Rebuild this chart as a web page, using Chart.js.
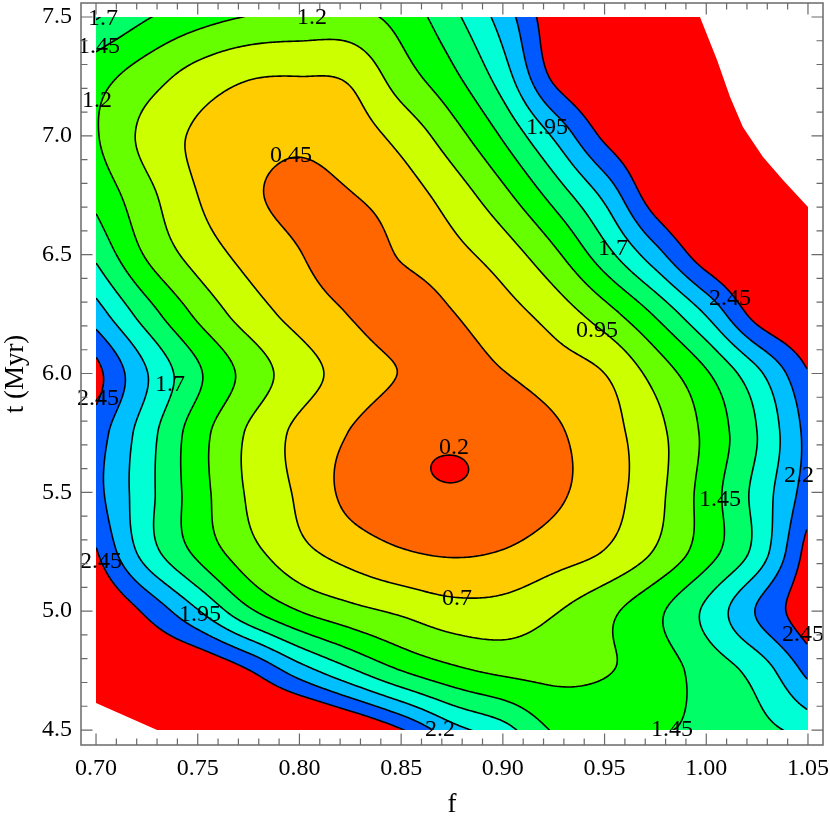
<!DOCTYPE html>
<html>
<head>
<meta charset="utf-8">
<script src="https://cdn.jsdelivr.net/npm/chart.js@4"></script>
<style>
html,body{margin:0;padding:0;background:#fff}
#wrap{width:830px;height:825px}
</style>
</head>
<body>
<div id="wrap"><canvas id="c" width="830" height="825"></canvas></div>
<script>
// ---------- data: grid of the plotted quantity over f (columns) and t in Myr (rows) ----------
const fValues = [0.700,0.725,0.750,0.775,0.800,0.825,0.850,0.875,0.900,0.925,0.950,0.975,1.000,1.025,1.050];
const tValues = [4.50,4.75,5.00,5.25,5.50,5.75,6.00,6.25,6.50,6.75,7.00,7.25,7.50];
const z_t450 = [2.90,2.85,2.90,2.90,3.00,2.80,2.47,2.05,1.80,1.43,1.40,1.44,1.48,1.62,1.78];
const z_t475 = [2.80,2.75,2.70,2.46,2.07,1.74,1.45,1.26,1.15,1.13,1.18,1.33,1.55,1.80,2.27];
const z_t500 = [2.75,2.40,1.97,1.50,1.20,1.03,0.91,0.80,0.80,0.93,1.13,1.39,1.75,2.22,2.62];
const z_t525 = [2.47,1.83,1.39,1.04,0.77,0.60,0.47,0.42,0.46,0.58,0.71,0.97,1.34,1.79,2.55];
const z_t550 = [2.28,1.78,1.31,0.92,0.66,0.38,0.255,0.212,0.26,0.40,0.59,0.87,1.31,1.78,2.32];
const z_t575 = [2.33,1.81,1.31,0.92,0.64,0.44,0.265,0.222,0.27,0.41,0.60,0.87,1.26,1.70,2.28];
const z_t600 = [2.53,1.96,1.49,1.11,0.81,0.60,0.44,0.35,0.44,0.57,0.70,1.04,1.42,1.89,2.44];
const z_t625 = [2.07,1.57,1.15,0.83,0.61,0.44,0.32,0.44,0.60,0.80,1.09,1.48,1.97,2.55,2.80];
const z_t650 = [1.65,1.17,0.85,0.62,0.46,0.32,0.47,0.62,0.82,1.14,1.60,2.10,2.60,2.80,2.90];
const z_t675 = [1.38,1.02,0.70,0.49,0.40,0.44,0.58,0.81,1.13,1.54,2.01,2.60,2.85,2.95,3.00];
const z_t700 = [1.22,0.88,0.66,0.55,0.50,0.58,0.78,1.09,1.48,1.98,2.50,2.75,2.90,3.00,3.10];
const z_t725 = [1.30,1.07,0.85,0.72,0.70,0.74,1.08,1.39,1.83,2.50,2.75,2.90,3.00,3.10,3.20];
const z_t750 = [1.72,1.47,1.30,1.19,1.14,1.13,1.29,1.63,2.06,2.62,2.85,3.00,3.10,3.20,3.30];
const zRows = [z_t450,z_t475,z_t500,z_t525,z_t550,z_t575,z_t600,z_t625,z_t650,z_t675,z_t700,z_t725,z_t750];

// boundary of the region where data exist (f, t)
const hullF = [0.700,0.9969,1.0053,1.0117,1.0180,1.0279,1.0377,1.050,1.050,0.730,0.700];
const hullT = [7.500,7.500,7.319,7.163,7.037,6.911,6.814,6.700,4.500,4.500,4.614];

// contour levels and band colours (below first level ... above last level)
const levels = [0.2,0.45,0.7,0.95,1.2,1.45,1.7,1.95,2.2,2.45];
const bandColors = ['#FF0000','#FF6600','#FFCC00','#CCFF00','#66FF00','#00FF00','#00FF66','#00FFD5','#00BFFF','#0058FF','#FF0000'];

// contour label annotations
const labelText = ['1.7','1.45','1.2','1.2','1.95','0.45','1.7','2.45','0.95','1.7','2.45','2.2','0.2','1.45','2.45','0.7','1.95','2.45','2.2','1.45'];
const labelF = [0.7034,0.7015,0.7005,0.8062,0.9217,0.7959,0.9541,1.0117,0.9463,0.7364,0.7010,1.0456,0.8760,1.0067,0.7025,0.8775,0.7511,1.0475,0.8691,0.9831];
const labelT = [7.492,7.374,7.146,7.496,7.033,6.915,6.524,6.313,6.179,5.952,5.893,5.569,5.686,5.468,5.207,5.051,4.984,4.900,4.500,4.500];

// axis ticks
const xTicks = [0.70,0.75,0.80,0.85,0.90,0.95,1.00,1.05];
const yTicks = [4.5,5.0,5.5,6.0,6.5,7.0,7.5];
const xMinorStep = 0.01;
const yMinorStep = 0.1;

// ---------- helpers ----------
const FONT = "'Liberation Serif', 'Times New Roman', serif";
const fMin = fValues[0], fMax = fValues[fValues.length-1];
const tMin = tValues[0], tMax = tValues[tValues.length-1];
const padXFrac = 0.0211, padYTopFrac = 0.0196, padYBotFrac = 0.021;

function idxFrac(arr, v){
  const n = arr.length; let k = 0;
  if (v <= arr[0]) k = 0;
  else if (v >= arr[n-1]) k = n-2;
  else { while (k < n-2 && v > arr[k+1]) k++; }
  return k + (v - arr[k])/(arr[k+1]-arr[k]);
}
const NR = zRows.length, NC = fValues.length;
function g(r,c){
  if (r < 0) return 2*g(0,c) - g(1,c);
  if (r > NR-1) return 2*g(NR-1,c) - g(NR-2,c);
  if (c < 0) return 2*g(r,0) - g(r,1);
  if (c > NC-1) return 2*g(r,NC-1) - g(r,NC-2);
  return zRows[r][c];
}
function cr(p0,p1,p2,p3,s){
  return p1 + 0.5*s*(p2-p0 + s*(2*p0-5*p1+4*p2-p3 + s*(3*(p1-p2)+p3-p0)));
}
function interp(fi, ti){
  let c = Math.floor(fi); if (c < 0) c = 0; if (c > NC-2) c = NC-2; const s = fi - c;
  let r = Math.floor(ti); if (r < 0) r = 0; if (r > NR-2) r = NR-2; const u = ti - r;
  const v = [];
  for (let d = -1; d <= 2; d++) {
    v.push(cr(g(r+d,c-1), g(r+d,c), g(r+d,c+1), g(r+d,c+2), s));
  }
  return cr(v[0], v[1], v[2], v[3], u);
}
function hexRgb(h){ return [parseInt(h.slice(1,3),16), parseInt(h.slice(3,5),16), parseInt(h.slice(5,7),16)]; }
const bandRgb = bandColors.map(hexRgb);

function hullPath(ctx, x, y){
  ctx.beginPath();
  for (let i = 0; i < hullF.length; i++) {
    const px = x.getPixelForValue(hullF[i]), py = y.getPixelForValue(hullT[i]);
    if (i === 0) ctx.moveTo(px, py); else ctx.lineTo(px, py);
  }
  ctx.closePath();
}

const contourPlugin = {
  id: 'contour',
  beforeDatasetsDraw(chart){
    const {ctx} = chart; const x = chart.scales.x, y = chart.scales.y;
    const px0 = Math.floor(x.getPixelForValue(fMin)), px1 = Math.ceil(x.getPixelForValue(fMax));
    const py0 = Math.floor(y.getPixelForValue(tMax)), py1 = Math.ceil(y.getPixelForValue(tMin));
    const w = px1 - px0, h = py1 - py0;
    const Z = new Float32Array(w*h);
    const fis = new Float32Array(w);
    for (let i = 0; i < w; i++) fis[i] = idxFrac(fValues, x.getValueForPixel(px0 + i + 0.5));
    for (let j = 0; j < h; j++) {
      const ti = idxFrac(tValues, y.getValueForPixel(py0 + j + 0.5));
      for (let i = 0; i < w; i++) Z[j*w+i] = interp(fis[i], ti);
    }
    const off = document.createElement('canvas'); off.width = w; off.height = h;
    const octx = off.getContext('2d'); const img = octx.createImageData(w, h); const d = img.data;
    for (let p = 0; p < w*h; p++) {
      const z = Z[p]; let k = 0;
      while (k < levels.length && z >= levels[k]) k++;
      const c = bandRgb[k];
      d[p*4] = c[0]; d[p*4+1] = c[1]; d[p*4+2] = c[2]; d[p*4+3] = 255;
    }
    octx.putImageData(img, 0, 0);
    ctx.save();
    hullPath(ctx, x, y);
    ctx.clip();
    ctx.imageSmoothingEnabled = false;
    ctx.drawImage(off, px0, py0);
    ctx.strokeStyle = '#000'; ctx.lineWidth = 1.6; ctx.lineJoin = 'round'; ctx.lineCap = 'round';
    const st = 2;
    for (const L of levels) {
      ctx.beginPath();
      for (let j = 0; j + st < h; j += st) {
        for (let i = 0; i + st < w; i += st) {
          const a = Z[j*w+i], b = Z[j*w+i+st], c = Z[(j+st)*w+i+st], dd = Z[(j+st)*w+i];
          const idx = (a>=L?8:0)|(b>=L?4:0)|(c>=L?2:0)|(dd>=L?1:0);
          if (idx === 0 || idx === 15) continue;
          const ox = px0 + i + 0.5, oy = py0 + j + 0.5;
          const T = () => [ox + st*(L-a)/(b-a), oy];
          const R = () => [ox + st, oy + st*(L-b)/(c-b)];
          const B = () => [ox + st*(L-dd)/(c-dd), oy + st];
          const Lf = () => [ox, oy + st*(L-a)/(dd-a)];
          const seg = (p, q) => { ctx.moveTo(p[0], p[1]); ctx.lineTo(q[0], q[1]); };
          switch (idx) {
            case 1: case 14: seg(Lf(), B()); break;
            case 2: case 13: seg(B(), R()); break;
            case 3: case 12: seg(Lf(), R()); break;
            case 4: case 11: seg(T(), R()); break;
            case 5: seg(T(), R()); seg(Lf(), B()); break;
            case 6: case 9: seg(T(), B()); break;
            case 7: case 8: seg(T(), Lf()); break;
            case 10: seg(Lf(), T()); seg(B(), R()); break;
          }
        }
      }
      ctx.stroke();
    }
    ctx.restore();
    ctx.save();
    ctx.fillStyle = '#000'; ctx.font = '24px ' + FONT;
    ctx.textAlign = 'center'; ctx.textBaseline = 'middle';
    for (let k = 0; k < labelText.length; k++) {
      ctx.fillText(labelText[k], x.getPixelForValue(labelF[k]), y.getPixelForValue(labelT[k]));
    }
    ctx.restore();
  },
  afterDraw(chart){
    const {ctx, chartArea: ca} = chart; const x = chart.scales.x, y = chart.scales.y;
    ctx.save();
    ctx.strokeStyle = '#6a6a6a'; ctx.lineWidth = 1.5;
    ctx.strokeRect(ca.left, ca.top, ca.right - ca.left, ca.bottom - ca.top);
    ctx.lineWidth = 1.2;
    ctx.beginPath();
    const nx = Math.round((fMax - fMin)/xMinorStep);
    for (let k = 0; k <= nx; k++) {
      const v = fMin + k*xMinorStep; const px = x.getPixelForValue(v);
      const major = xTicks.some(t => Math.abs(t - v) < 1e-6); const len = major ? 11.5 : 6.5;
      ctx.moveTo(px, ca.bottom); ctx.lineTo(px, ca.bottom - len);
      ctx.moveTo(px, ca.top); ctx.lineTo(px, ca.top + len);
    }
    const ny = Math.round((tMax - tMin)/yMinorStep);
    for (let k = 0; k <= ny; k++) {
      const v = tMin + k*yMinorStep; const py = y.getPixelForValue(v);
      const major = yTicks.some(t => Math.abs(t - v) < 1e-6); const len = major ? 11.5 : 6.5;
      ctx.moveTo(ca.left, py); ctx.lineTo(ca.left + len, py);
      ctx.moveTo(ca.right, py); ctx.lineTo(ca.right - len, py);
    }
    ctx.stroke();
    ctx.restore();
  }
};

Chart.defaults.font.family = FONT;
Chart.defaults.color = '#000';

new Chart(document.getElementById('c'), {
  type: 'scatter',
  data: { datasets: [{ data: [], showLine: false }] },
  options: {
    responsive: false,
    animation: false,
    devicePixelRatio: 1,
    layout: { padding: { top: 3, right: 7, bottom: 0, left: 0 } },
    plugins: { legend: { display: false }, tooltip: { enabled: false } },
    scales: {
      x: {
        type: 'linear', position: 'bottom',
        min: fMin - padXFrac*(fMax - fMin), max: fMax + padXFrac*(fMax - fMin),
        afterBuildTicks: ax => { ax.ticks = xTicks.map(v => ({ value: v })); },
        afterFit: ax => { ax.height = 80; ax.paddingLeft = 0; ax.paddingRight = 0; },
        ticks: { callback: v => Number(v).toFixed(2), font: { size: 24, family: FONT }, color: '#000', padding: 9, maxRotation: 0, autoSkip: false },
        grid: { display: false, drawTicks: false },
        border: { display: false },
        title: { display: true, text: 'f', font: { size: 27, family: FONT }, color: '#000', padding: { top: 0, bottom: 4 } }
      },
      y: {
        type: 'linear', position: 'left',
        min: tMin - padYBotFrac*(tMax - tMin), max: tMax + padYTopFrac*(tMax - tMin),
        afterBuildTicks: ax => { ax.ticks = yTicks.map(v => ({ value: v })); },
        afterFit: ax => { ax.width = 81; ax.paddingTop = 0; ax.paddingBottom = 0; },
        ticks: { callback: v => Number(v).toFixed(1), font: { size: 24, family: FONT }, color: '#000', padding: 9, autoSkip: false },
        grid: { display: false, drawTicks: false },
        border: { display: false },
        title: { display: true, text: 't (Myr)', font: { size: 27, family: FONT }, color: '#000', padding: { top: 0, bottom: 0 } }
      }
    }
  },
  plugins: [contourPlugin]
});
</script>
</body>
</html>
